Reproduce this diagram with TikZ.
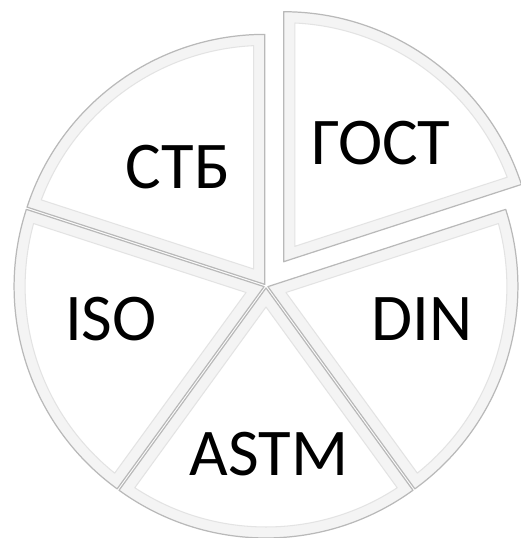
\documentclass[tikz,border=0pt]{standalone}
\usepackage{fontspec}
\setmainfont{Carlito}
\usetikzlibrary{calc}

% one beveled pie slice: apex, start angle, end angle
\newcommand{\pieslice}[3]{%
  \pgfmathsetmacro{\midang}{(#2+#3)/2}
  \draw[slicebox] (#1) -- ++(#2:250) arc[start angle=#2, end angle=#3, radius=250] -- cycle;
  \draw[slicebevel] ($(#1)+(\midang:19)$) -- ($(#1)+(#2+2.7:239)$)
    arc[start angle=#2+2.7, end angle=#3-2.7, radius=239] -- cycle;
}

\begin{document}
\begin{tikzpicture}[x=0.02cm, y=0.02cm,
    % Slice styles
    slicebox/.style={fill=gray!9, draw=gray!55, line width=0.7pt, line join=round},
    slicebevel/.style={fill=white, draw=gray!22, line width=0.6pt, line join=round},
    slicetext/.style={font=\fontsize{38}{40}\selectfont, text=black, inner sep=0pt}
  ]
  \useasboundingbox (0,0) rectangle (521,538);

  % --- Centre of the pie ---
  \coordinate (ctr) at (266,252);

  % --- Slices (ГОСТ pulled out) ---
  \foreach \a/\off/\name in {18/30/gost, 90/2/stb, 162/2/iso, 234/2/astm, 306/2/din}{
    \coordinate (\name) at ($(ctr)+(\a+36:\off)$);
    \pieslice{\name}{\a}{\a+72}
  }

  % --- Labels ---
  \node[slicetext] (tgost) at (381,395) {ГОСТ};
  \node[slicetext] (tstb)  at (178,371) {СТБ};
  \node[slicetext] (tiso)  at (111,219) {ISO};
  \node[slicetext] (tdin)  at (422,219) {DIN};
  \node[slicetext] (tastm) at (269,84)  {ASTM};

\end{tikzpicture}
\end{document}
